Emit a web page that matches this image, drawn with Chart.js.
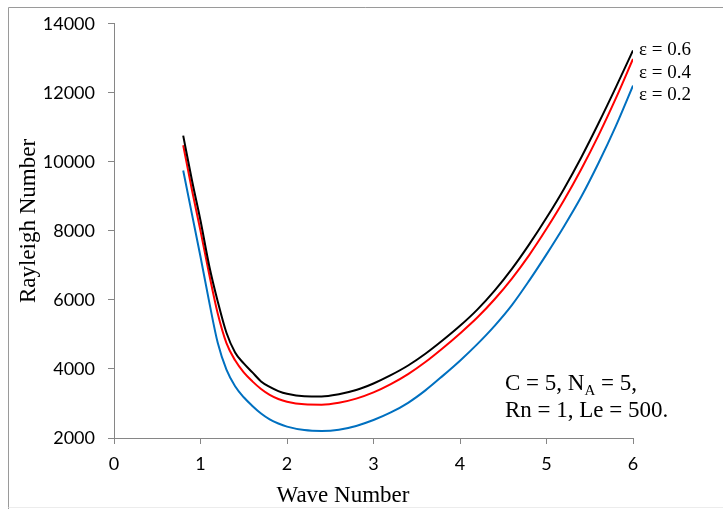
<!DOCTYPE html>
<html>
<head>
<meta charset="utf-8">
<script src="https://cdn.jsdelivr.net/npm/chart.js@4.4.1/dist/chart.umd.min.js"></script>
<style>
  html, body { margin: 0; padding: 0; background: #fff; }
  #wrap { width: 723px; height: 509px; position: relative; }
</style>
</head>
<body>
<div id="wrap"><canvas id="rayleigh"></canvas></div>
<script>
// wave numbers (x) and Rayleigh numbers
const waveNumber = [0.8, 0.9, 1.0, 1.1, 1.2, 1.3, 1.4, 1.5, 1.6, 1.7, 1.8, 1.9, 2.0, 2.2, 2.4, 2.6, 2.8,
  3.0, 3.2, 3.4, 3.6, 3.8, 4.0, 4.2, 4.4, 4.6, 4.8, 5.0, 5.2, 5.4, 5.6, 5.8, 6.0];

const eps06 = [10760, 9480, 8300, 7000, 5950, 5050, 4480, 4160, 3900, 3640, 3480, 3360, 3280, 3210, 3205, 3270, 3390,
  3580, 3820, 4100, 4440, 4830, 5250, 5720, 6270, 6900, 7610, 8380, 9210, 10120, 11110, 12150, 13230];

const eps04 = [10480, 9200, 8000, 6750, 5600, 4750, 4250, 3900, 3640, 3420, 3250, 3130, 3050, 2975, 2965, 3020, 3140,
  3320, 3560, 3850, 4200, 4600, 5030, 5490, 6020, 6620, 7300, 8060, 8880, 9780, 10760, 11830, 12980];

const eps02 = [9750, 8500, 7250, 5950, 4750, 3980, 3500, 3180, 2930, 2710, 2540, 2420, 2330, 2230, 2205, 2240, 2350,
  2520, 2740, 3020, 3380, 3800, 4240, 4720, 5250, 5850, 6560, 7320, 8120, 8980, 9960, 11030, 12210];

const xTicks = [0, 1, 2, 3, 4, 5, 6];
const yTicks = [2000, 4000, 6000, 8000, 10000, 12000, 14000];

const seriesLabels = ['\u03b5 = 0.6', '\u03b5 = 0.4', '\u03b5 = 0.2'];

const toPoints = (ys) => ys.map((y, i) => ({ x: waveNumber[i], y: y }));

const axisGray = '#868686';
const serif = '"Liberation Serif", "Times New Roman", serif';

// text drawn straight onto the canvas: frame, axis titles, curve labels, parameters
const decorations = {
  id: 'decorations',
  afterDraw(chart) {
    const ctx = chart.ctx;
    const xs = chart.scales.x;
    ctx.save();

    // outer frame (top + left, faint bottom)
    ctx.strokeStyle = '#9a9a9a';
    ctx.lineWidth = 1;
    ctx.beginPath();
    ctx.moveTo(8.5, 509);
    ctx.lineTo(8.5, 7.5);
    ctx.lineTo(723, 7.5);
    ctx.stroke();
    ctx.strokeStyle = '#ececec';
    ctx.beginPath();
    ctx.moveTo(8.5, 507.5);
    ctx.lineTo(723, 507.5);
    ctx.stroke();

    ctx.fillStyle = '#000';
    ctx.textBaseline = 'alphabetic';

    // x title
    ctx.font = '23px ' + serif;
    ctx.textAlign = 'center';
    ctx.fillText('Wave Number', 343, 502);

    // y title
    ctx.save();
    ctx.translate(35, 221);
    ctx.rotate(-Math.PI / 2);
    ctx.fillText('Rayleigh Number', 0, 0);
    ctx.restore();

    // curve labels at the right end
    ctx.font = '19px ' + serif;
    ctx.textAlign = 'left';
    const lx = xs.getPixelForValue(6) + 6;
    ctx.fillText(seriesLabels[0], lx, 55);
    ctx.fillText(seriesLabels[1], lx, 78);
    ctx.fillText(seriesLabels[2], lx, 100);

    // parameter box
    ctx.font = '23px ' + serif;
    let x = 505;
    const y1 = 390;
    const part1 = 'C = 5, N';
    ctx.fillText(part1, x, y1);
    x += ctx.measureText(part1).width;
    ctx.font = '15px ' + serif;
    ctx.fillText('A', x, y1 + 5);
    x += ctx.measureText('A').width;
    ctx.font = '23px ' + serif;
    ctx.fillText(' = 5,', x, y1);
    ctx.fillText('Rn = 1, Le = 500.', 505, 417);

    ctx.restore();
  }
};

const ctx = document.getElementById('rayleigh').getContext('2d');

const grafico = new Chart(ctx, {
  type: 'line',
  data: {
    datasets: [
      { label: seriesLabels[0], data: toPoints(eps06), borderColor: '#000000' },
      { label: seriesLabels[1], data: toPoints(eps04), borderColor: '#ff0000' },
      { label: seriesLabels[2], data: toPoints(eps02), borderColor: '#0070c0' }
    ]
  },
  options: {
    responsive: true,
    maintainAspectRatio: false,
    animation: false,
    layout: { padding: { left: 0, top: 20, right: 90, bottom: 0 } },
    elements: {
      line: { borderWidth: 2, cubicInterpolationMode: 'monotone', fill: false },
      point: { radius: 0 }
    },
    plugins: {
      legend: { display: false },
      tooltip: { enabled: false }
    },
    scales: {
      x: {
        type: 'linear',
        min: 0,
        max: 6,
        afterBuildTicks: (scale) => { scale.ticks = xTicks.map(v => ({ value: v })); },
        afterFit: (scale) => { scale.height = 71; },
        grid: { drawOnChartArea: false, drawTicks: true, tickLength: 6, color: axisGray },
        border: { display: true, color: axisGray, width: 1 },
        ticks: { color: '#000', padding: 9, font: { family: 'Lato', size: 18 } }
      },
      y: {
        min: 2000,
        max: 14000,
        afterBuildTicks: (scale) => { scale.ticks = yTicks.map(v => ({ value: v })); },
        afterFit: (scale) => { scale.width = 114; },
        grid: { drawOnChartArea: false, drawTicks: true, tickLength: 6, color: axisGray },
        border: { display: true, color: axisGray, width: 1 },
        ticks: {
          color: '#000',
          padding: 13,
          font: { family: 'Lato', size: 18 },
          callback: (v) => String(v)
        }
      }
    }
  },
  plugins: [decorations]
});
</script>
</body>
</html>
